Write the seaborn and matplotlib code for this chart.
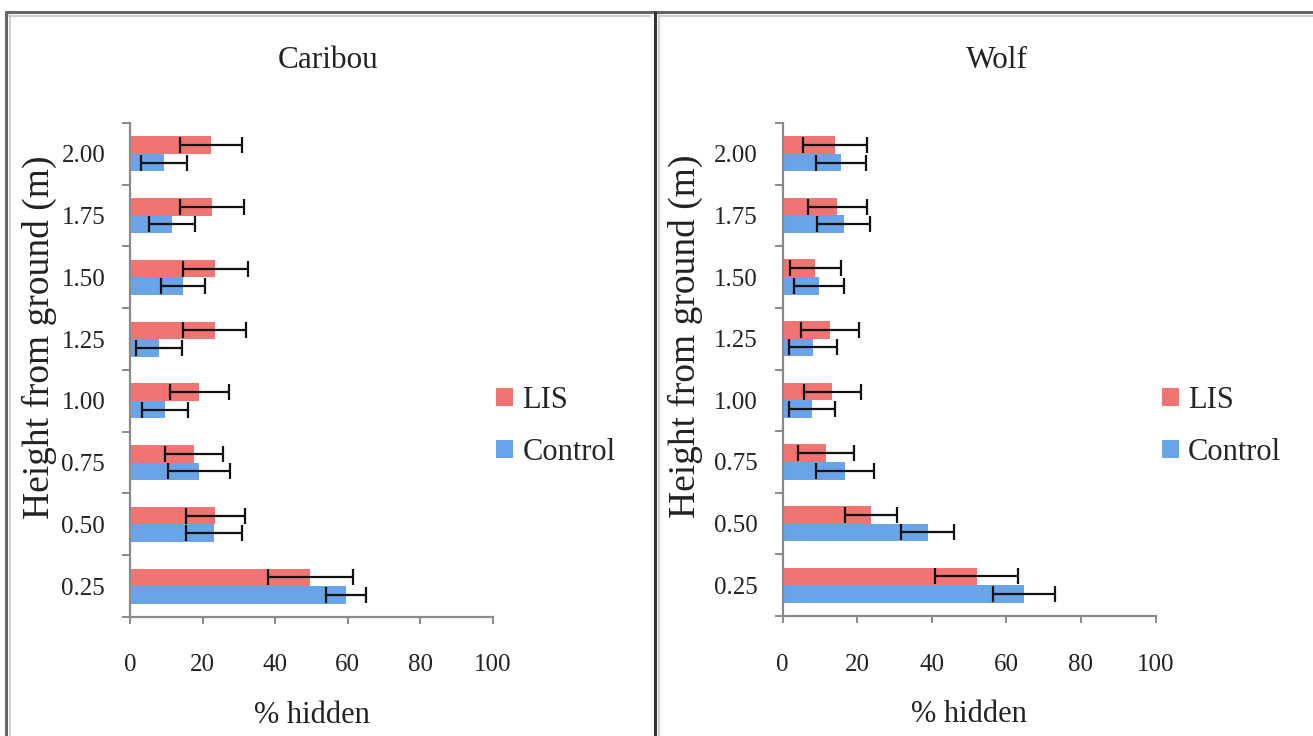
import pandas as pd
import seaborn as sns
import matplotlib.pyplot as plt
from matplotlib.lines import Line2D
from matplotlib.ticker import FixedLocator

# heights from ground (m), bottom to top as drawn
heights = ['0.25', '0.50', '0.75', '1.00', '1.25', '1.50', '1.75', '2.00']
groups = ['LIS', 'Control']

caribou_lis = [49.7, 23.5, 17.6, 19.1, 23.3, 23.5, 22.6, 22.3]
caribou_lis_err = [11.8, 8.2, 8.0, 8.1, 8.7, 8.9, 8.8, 8.6]
caribou_ctrl = [59.6, 23.2, 19.0, 9.6, 8.0, 14.5, 11.6, 9.4]
caribou_ctrl_err = [5.5, 7.7, 8.6, 6.3, 6.4, 6.0, 6.3, 6.3]

wolf_lis = [52.0, 23.6, 11.6, 13.3, 12.7, 8.8, 14.7, 14.0]
wolf_lis_err = [11.2, 7.0, 7.4, 7.7, 7.7, 6.9, 8.0, 8.5]
wolf_ctrl = [64.8, 38.9, 16.7, 7.9, 8.1, 9.7, 16.4, 15.6]
wolf_ctrl_err = [8.3, 7.1, 7.8, 6.1, 6.5, 6.7, 7.1, 6.7]

x_ticks = [0, 20, 40, 60, 80, 100]

colors = {'LIS': '#F07472', 'Control': '#6AA4E8'}


def make_df(lis, lis_err, ctrl, ctrl_err):
    rows = []
    for h, v, e in zip(heights, lis, lis_err):
        rows.append({'height': h, 'group': 'LIS', 'hidden': v, 'err': e})
    for h, v, e in zip(heights, ctrl, ctrl_err):
        rows.append({'height': h, 'group': 'Control', 'hidden': v, 'err': e})
    return pd.DataFrame(rows)


sns.set_style('white')
plt.rcParams['font.family'] = ['Liberation Serif', 'DejaVu Serif']
text_col = '#222222'
axis_col = '#8a8a8a'

fig = plt.figure(figsize=(13.13, 7.36), dpi=100)

panels = [
    ('Caribou', make_df(caribou_lis, caribou_lis_err, caribou_ctrl, caribou_ctrl_err),
     [0.0992, 0.1617, 0.2760, 0.6712], 0.2498, -0.252, (0.3688, 0.421)),
    ('Wolf', make_df(wolf_lis, wolf_lis_err, wolf_ctrl, wolf_ctrl_err),
     [0.5961, 0.1630, 0.2840, 0.6699], 0.759, -0.262, (0.8755, 0.421)),
]

order = heights[::-1]

for title, df, rect, title_x, ylab_x, leg_pos in panels:
    ax = fig.add_axes(rect)
    sns.barplot(data=df, x='hidden', y='height', hue='group', order=order,
                hue_order=groups, palette=colors, orient='h', width=0.57,
                saturation=1, errorbar=None, ax=ax, linewidth=0)

    # error bars from the drawn bars
    for cont, g in zip(ax.containers, groups):
        sub = df[df['group'] == g].set_index('height').loc[order]
        ys = [p.get_y() + p.get_height() / 2 for p in cont.patches]
        xs = [p.get_width() for p in cont.patches]
        ax.errorbar(xs, ys, xerr=sub['err'].values, fmt='none', ecolor='#111111',
                    elinewidth=1.6, capsize=6, capthick=1.6)

    ax.set_xlim(0, 100)
    ax.set_ylim(len(order) - 0.5, -0.5)
    ax.xaxis.set_major_locator(FixedLocator(x_ticks))
    ax.yaxis.set_minor_locator(FixedLocator([i - 0.5 for i in range(len(order) + 1)]))

    for s in ['top', 'right']:
        ax.spines[s].set_visible(False)
    for s in ['left', 'bottom']:
        ax.spines[s].set_color(axis_col)
        ax.spines[s].set_linewidth(1.6)

    ax.tick_params(axis='y', which='major', length=0, pad=18, labelsize=18, labelcolor=text_col)
    ax.tick_params(axis='y', which='minor', left=True, length=6, width=1.4, color=axis_col)
    ax.tick_params(axis='x', which='major', bottom=True, length=5, width=1.4, color=axis_col,
                   direction='out', pad=22, labelsize=18, labelcolor=text_col)

    ax.set_xlabel('% hidden', fontsize=22, color=text_col)
    ax.xaxis.label.set_va('center')
    ax.xaxis.set_label_coords(0.5, -0.2)
    ax.set_ylabel('Height from ground (m)', fontsize=27, color=text_col)
    ax.yaxis.label.set_va('center')
    ax.yaxis.set_label_coords(ylab_x, 0.567)

    fig.text(title_x, 0.918, title, ha='center', va='center', fontsize=22.5, color=text_col)

    ax.legend(loc='center left', bbox_to_anchor=leg_pos, bbox_transform=fig.transFigure,
              frameon=False, fontsize=22, handlelength=0.55, handleheight=0.55,
              handletextpad=0.3, labelspacing=0.75, borderaxespad=0)

# panel frames
W, H = 1313, 736


def fx(px):
    return px / W


def fy(py):
    return 1 - py / H


frame = [
    ((6, 1313), (12, 12), '#666666', 2.2),
    ((6, 6), (12, 736), '#666666', 2.2),
    ((655, 655), (12, 736), '#333333', 2.2),
    ((9, 650), (15.5, 15.5), '#cccccc', 1.4),
    ((9.5, 9.5), (15, 736), '#cccccc', 1.4),
    ((659, 1313), (15.5, 15.5), '#cccccc', 1.4),
    ((659, 659), (15, 736), '#cccccc', 1.4),
]
for xs, ys, c, lw in frame:
    fig.add_artist(Line2D([fx(x) for x in xs], [fy(y) for y in ys], color=c, linewidth=lw))

fig.savefig('out.png', dpi=100)
